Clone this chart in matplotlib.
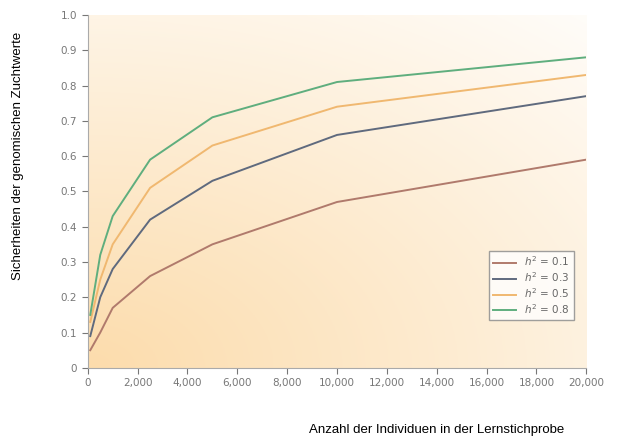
import numpy as np
import matplotlib
matplotlib.use("Agg")
import matplotlib.pyplot as plt

x = [100, 500, 1000, 2500, 5000, 10000, 20000]
h01 = [0.05, 0.10, 0.17, 0.26, 0.35, 0.47, 0.59]
h03 = [0.09, 0.20, 0.28, 0.42, 0.53, 0.66, 0.77]
h05 = [0.13, 0.25, 0.35, 0.51, 0.63, 0.74, 0.83]
h08 = [0.15, 0.32, 0.43, 0.59, 0.71, 0.81, 0.88]
labels = ["$h^2$ = 0.1", "$h^2$ = 0.3", "$h^2$ = 0.5", "$h^2$ = 0.8"]
colors = ["#b07a6c", "#5f6a7e", "#f0b870", "#5fae7e"]
xticks = list(range(0, 20001, 2000))
xticklabels = ["0"] + [f"{v:,}" for v in xticks[1:]]
yticks = [i / 10 for i in range(11)]
yticklabels = ["0"] + [f"{v:.1f}" for v in yticks[1:]]

fig = plt.figure(figsize=(6.27, 4.40), dpi=100)
ax = fig.add_axes([0.140, 0.164, 0.795, 0.802])

# gradient background
gx, gy = np.meshgrid(np.linspace(0, 1, 200), np.linspace(0, 1, 200))
t = np.clip(1 - np.sqrt((gx * 0.8) ** 2 + (gy * 0.9) ** 2) / 1.3, 0, 1)
c0 = np.array([1, 1, 1]); c1 = np.array([252, 220, 172]) / 255
img = c0[None, None, :] * (1 - t[..., None]) + c1[None, None, :] * t[..., None]
ax.imshow(img, extent=[0, 1, 0, 1], transform=ax.transAxes, origin="lower",
          aspect="auto", zorder=0)

for ys, c, l in zip([h01, h03, h05, h08], colors, labels):
    ax.plot(x, ys, color=c, lw=1.4, label=l, zorder=2)

ax.set_xlim(0, 20000)
ax.set_ylim(0, 1.0)
ax.set_xticks(xticks)
ax.set_xticklabels(xticklabels)
ax.set_yticks(yticks)
ax.set_yticklabels(yticklabels)
for s in ["top", "right"]:
    ax.spines[s].set_visible(False)
for s in ["left", "bottom"]:
    ax.spines[s].set_color("#aaaaaa")
ax.tick_params(colors="#777777", labelsize=7.5, length=4)

leg = ax.legend(loc="lower right", bbox_to_anchor=(0.985, 0.12), fontsize=7.5,
                frameon=True, fancybox=False, handlelength=2.2, labelspacing=0.2)
leg.get_frame().set_edgecolor("#888888")
leg.get_frame().set_facecolor("white")
for t_ in leg.get_texts():
    t_.set_color("#666666")

fig.text(0.028, 0.645, "Sicherheiten der genomischen Zuchtwerte", rotation=90,
         ha="center", va="center", fontsize=9.5, family="Liberation Sans")
fig.text(0.697, 0.022, "Anzahl der Individuen in der Lernstichprobe",
         ha="center", va="center", fontsize=9.5, family="Liberation Sans")
fig.savefig("out.png", dpi=100)
